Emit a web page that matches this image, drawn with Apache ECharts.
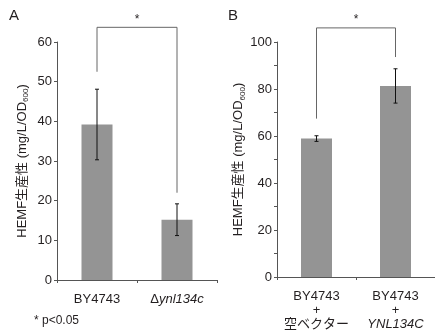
<!DOCTYPE html>
<html>
<head>
<meta charset="utf-8">
<script src="https://cdn.jsdelivr.net/npm/echarts@6/dist/echarts.min.js"></script>
<style>
  html, body { margin: 0; padding: 0; background: #fff; }
  #chart { width: 435px; height: 331px; }
</style>
</head>
<body>
<div id="chart"></div>
<script>
// panel A
var aCategories = ["BY4743", "{d|Δ}{i|ynl134c}"];
var aMeans = [39.2, 15.2];
var aErr = [8.9, 4.0];
var aBracketEnds = [52.5, 22.0];
var aBracketTop = 63.7;
// panel B
var bCategories = ["BY4743\n+\n空ベクター", "BY4743\n+\n{i|YNL134C}"];
var bMeans = [58.9, 81.3];
var bErr = [1.2, 7.3];
var bBracketEnds = [67.4, 93.6];
var bBracketTop = 106;

var font = "Arial, 'Noto Sans CJK JP', sans-serif";
var textColor = "#231f20";
var axisColor = "#555";
var barColor = "#949494";
var fs = 13;

// エラーバー
function errorBar(means, errs) {
	return function (params, api) {
		var i = params.dataIndex;
		var top = api.coord([i, means[i] + errs[i]]);
		var bot = api.coord([i, means[i] - errs[i]]);
		var w = 2;
		var style = { stroke: "#111", lineWidth: 1 };
		return {
			type: "group",
			children: [
				{ type: "line", shape: { x1: top[0], y1: top[1], x2: bot[0], y2: bot[1] }, style: style },
				{ type: "line", shape: { x1: top[0] - w, y1: top[1], x2: top[0] + w, y2: top[1] }, style: style },
				{ type: "line", shape: { x1: bot[0] - w, y1: bot[1], x2: bot[0] + w, y2: bot[1] }, style: style },
			],
		};
	};
}

// 有意差の括弧
function bracket(ends, topVal) {
	return function (params, api) {
		var l = api.coord([0, ends[0]]);
		var r = api.coord([1, ends[1]]);
		var t = api.coord([0, topVal])[1];
		var style = { stroke: "#666", lineWidth: 1, fill: null };
		return {
			type: "group",
			children: [
				{ type: "polyline", shape: { points: [[l[0], l[1]], [l[0], t], [r[0], t], [r[0], r[1]]] }, style: style },
				{
					type: "text",
					x: (l[0] + r[0]) / 2,
					y: t - 8,
					style: { text: "*", fill: textColor, font: "12px " + font, align: "center", verticalAlign: "middle" },
				},
			],
		};
	};
}

var yName = "HEMF生産性 (mg/L/OD{s|600})";
var nameStyle = {
	color: textColor,
	fontFamily: font,
	fontSize: 13,
	rich: { s: { fontSize: 8, color: textColor, fontFamily: font, verticalAlign: "bottom", padding: [7, 0, 0, 0] } },
};

function xAxisOpt(grid, data) {
	return {
		type: "category",
		gridIndex: grid,
		data: data,
		axisLine: { lineStyle: { color: axisColor, width: 1 } },
		axisTick: { show: true, length: 3, alignWithLabel: false, lineStyle: { color: axisColor } },
		axisLabel: {
			interval: 0,
			color: textColor,
			fontFamily: font,
			fontSize: fs,
			margin: 12,
			lineHeight: 14,
			rich: {
				i: { fontStyle: "italic", fontSize: fs, color: textColor, fontFamily: font },
				d: { fontSize: fs, color: textColor, fontFamily: font },
			},
		},
	};
}

function yAxisOpt(grid, max, interval, labelEvery) {
	return {
		type: "value",
		gridIndex: grid,
		min: 0,
		max: max,
		interval: interval,
		name: yName,
		nameLocation: "middle",
		nameRotate: 90,
		nameGap: 27,
		nameTextStyle: nameStyle,
		axisLine: { show: true, lineStyle: { color: axisColor, width: 1 } },
		axisTick: { show: true, length: 3, lineStyle: { color: axisColor } },
		splitLine: { show: false },
		axisLabel: {
			color: textColor,
			fontFamily: font,
			fontSize: fs,
			margin: 5,
			formatter: function (v) {
				return v % labelEvery === 0 ? String(v) : "";
			},
		},
	};
}

var myChart = echarts.init(document.getElementById("chart"), null, { renderer: "canvas" });
var option = {
	animation: false,
	grid: [
		{ left: 57, top: 42, width: 160, bottom: 51 },
		{ left: 277, top: 42, width: 158, bottom: 51 },
	],
	xAxis: [xAxisOpt(0, aCategories), xAxisOpt(1, bCategories)],
	yAxis: [yAxisOpt(0, 60, 10, 10), yAxisOpt(1, 100, 10, 20)],
	graphic: [
		{ type: "text", left: 9, top: 8, style: { text: "A", fill: textColor, font: "15px " + font } },
		{ type: "text", left: 228, top: 8, style: { text: "B", fill: textColor, font: "15px " + font } },
		{ type: "text", left: 34, top: 315, style: { text: "* p<0.05", fill: textColor, font: "12px " + font } },
	],
	series: [
		{
			type: "bar",
			xAxisIndex: 0,
			yAxisIndex: 0,
			data: aMeans,
			barWidth: 31,
			itemStyle: { color: barColor },
		},
		{
			type: "custom",
			xAxisIndex: 0,
			yAxisIndex: 0,
			data: aMeans,
			renderItem: errorBar(aMeans, aErr),
			z: 5,
		},
		{
			type: "custom",
			xAxisIndex: 0,
			yAxisIndex: 0,
			data: [0],
			clip: false,
			renderItem: bracket(aBracketEnds, aBracketTop),
			z: 5,
		},
		{
			type: "bar",
			xAxisIndex: 1,
			yAxisIndex: 1,
			data: bMeans,
			barWidth: 31,
			itemStyle: { color: barColor },
		},
		{
			type: "custom",
			xAxisIndex: 1,
			yAxisIndex: 1,
			data: bMeans,
			renderItem: errorBar(bMeans, bErr),
			z: 5,
		},
		{
			type: "custom",
			xAxisIndex: 1,
			yAxisIndex: 1,
			data: [0],
			clip: false,
			renderItem: bracket(bBracketEnds, bBracketTop),
			z: 5,
		},
	],
};
myChart.setOption(option);
</script>
</body>
</html>
